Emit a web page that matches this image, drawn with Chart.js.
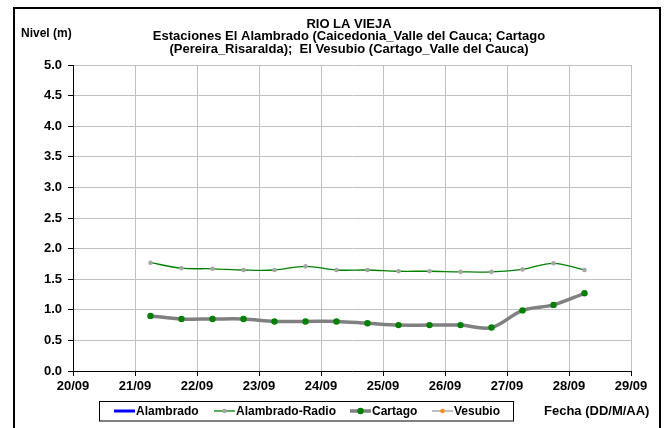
<!DOCTYPE html>
<html lang="es">
<head>
<meta charset="UTF-8">
<title>Rio La Vieja - Nivel</title>
<script src="https://cdn.jsdelivr.net/npm/chart.js"></script>
<style>
  body { margin: 0; background: #fff; }
  #wrap { width: 665px; height: 428px; }
</style>
</head>
<body>
<div id="wrap"><canvas id="grafico" width="665" height="428"></canvas></div>
<script>
// fechas: dia de septiembre + fraccion (06:00 y 18:00)
const fechas = [21.25, 21.75, 22.25, 22.75, 23.25, 23.75, 24.25, 24.75, 25.25, 25.75, 26.25, 26.75, 27.25, 27.75, 28.25];
const alambrado = [];
const alambradoRadio = [1.77, 1.68, 1.67, 1.65, 1.65, 1.71, 1.65, 1.65, 1.63, 1.63, 1.62, 1.62, 1.66, 1.76, 1.65];
const cartago = [0.90, 0.85, 0.85, 0.85, 0.81, 0.81, 0.81, 0.78, 0.75, 0.75, 0.75, 0.71, 0.99, 1.08, 1.27];
const vesubio = [];

const titulo = ['RIO LA VIEJA',
  'Estaciones El Alambrado (Caicedonia_Valle del Cauca; Cartago',
  '(Pereira_Risaralda);  El Vesubio (Cartago_Valle del Cauca)'];
const tituloY = 'Nivel (m)';
const tituloX = 'Fecha (DD/M/AA)';

function puntos(vals) {
  return vals.map((v, i) => ({ x: fechas[i], y: v }));
}

// titulo, ejes, marco y leyenda al estilo Excel
const extras = {
  id: 'extras',
  afterDraw(chart) {
    const c = chart.ctx;
    c.save();
    c.strokeStyle = '#000';
    c.lineWidth = 2;
    c.strokeRect(14, 8, 646, 440);

    c.fillStyle = '#000';
    c.textAlign = 'center';
    c.textBaseline = 'middle';
    c.font = 'bold 13px "Liberation Sans", Arial, sans-serif';
    titulo.forEach((t, i) => c.fillText(t, 349, 24 + i * 12.7));

    c.font = 'bold 12px "Liberation Sans", Arial, sans-serif';
    c.textAlign = 'left';
    c.fillText(tituloY, 21, 34);
    c.font = 'bold 13px "Liberation Sans", Arial, sans-serif';
    c.fillText(tituloX, 544, 411);

    // leyenda
    c.lineWidth = 1;
    c.strokeRect(99.5, 401.5, 414, 19.5);
    const xs = [114, 214, 350, 432];
    c.font = 'bold 12px "Liberation Sans", Arial, sans-serif';
    chart.data.datasets.forEach((ds, i) => {
      const x = xs[i], y = 411;
      c.strokeStyle = ds.borderColor;
      c.lineWidth = ds.borderWidth;
      c.beginPath();
      c.moveTo(x, y);
      c.lineTo(x + 21, y);
      c.stroke();
      if (ds.pointRadius > 0) {
        c.fillStyle = ds.pointBackgroundColor;
        c.beginPath();
        c.arc(x + 10.5, y, ds.pointRadius, 0, Math.PI * 2);
        c.fill();
      }
      c.fillStyle = '#000';
      c.fillText(ds.label, x + 22, y + 0.5);
    });
    c.restore();
  }
};

new Chart(document.getElementById('grafico'), {
  type: 'line',
  data: {
    datasets: [
      { label: 'Alambrado', data: puntos(alambrado), borderColor: '#0000ff', borderWidth: 3,
        pointRadius: 0, pointBackgroundColor: '#0000ff' },
      { label: 'Alambrado-Radio', data: puntos(alambradoRadio), borderColor: '#008000', borderWidth: 1.3,
        pointRadius: 2.3, pointBorderWidth: 0, pointBackgroundColor: '#a6a6a6', tension: 0.35 },
      { label: 'Cartago', data: puntos(cartago), borderColor: '#808080', borderWidth: 3.5,
        pointRadius: 3.2, pointBorderWidth: 0, pointBackgroundColor: '#008000', tension: 0.35 },
      { label: 'Vesubio', data: puntos(vesubio), borderColor: '#c0c0c0', borderWidth: 2,
        pointRadius: 2.3, pointBorderWidth: 0, pointBackgroundColor: '#ff8c1a' }
    ]
  },
  options: {
    responsive: false,
    animation: false,
    layout: { padding: { left: 0, right: 34, top: 65, bottom: 0 } },
    plugins: { legend: { display: false }, title: { display: false }, tooltip: { enabled: false } },
    scales: {
      x: {
        type: 'linear', min: 20, max: 29,
        afterFit: s => { s.height = 57; },
        ticks: { stepSize: 1, padding: 3, color: '#000',
          font: { family: '"Liberation Sans", Arial', size: 13, weight: 'bold' },
          callback: v => String(v).padStart(2, '0') + '/09' },
        grid: { color: '#c0c0c0', tickColor: '#000', tickLength: 5 },
        border: { color: '#000', width: 1 }
      },
      y: {
        min: 0, max: 5,
        afterFit: s => { s.width = 73; },
        ticks: { stepSize: 0.5, padding: 6, color: '#000',
          font: { family: '"Liberation Sans", Arial', size: 13, weight: 'bold' },
          callback: v => v.toFixed(1) },
        grid: { color: '#c0c0c0', tickColor: '#000', tickLength: 5 },
        border: { color: '#000', width: 1 }
      }
    }
  },
  plugins: [extras]
});
</script>
</body>
</html>
